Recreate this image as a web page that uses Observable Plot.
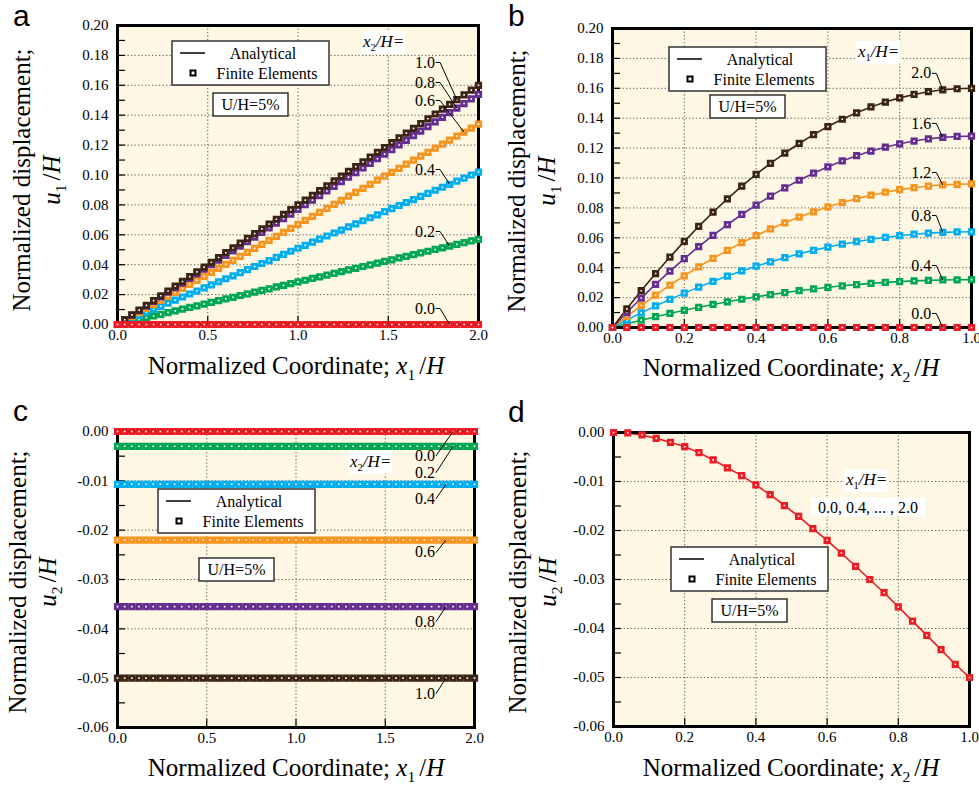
<!DOCTYPE html>
<html><head><meta charset="utf-8">
<script src="https://cdn.jsdelivr.net/npm/d3@7"></script>
<script src="https://cdn.jsdelivr.net/npm/@observablehq/plot@0.6"></script>
<style>
body{margin:0;background:#fff;}
#wrap{position:relative;width:979px;height:786px;overflow:hidden;background:#fff;}
#wrap svg{position:absolute;left:0;top:0;overflow:visible;font-family:"Liberation Serif","Times New Roman",serif !important;}
#wrap svg text, #wrap svg g{font-family:"Liberation Serif","Times New Roman",serif !important;}
#wrap svg text.letter{font-family:"Liberation Sans",Arial,sans-serif !important;}
</style></head><body><div id="wrap"></div>
<script>
// ---------------- DATA ----------------
const x1H = [0,0.04,0.08,0.12,0.16,0.2,0.24,0.28,0.32,0.36,0.4,0.44,0.48,0.52,0.56,0.6,0.64,0.68,0.72,0.76,0.8,0.84,0.88,0.92,0.96,1,1.04,1.08,1.12,1.16,1.2,1.24,1.28,1.32,1.36,1.4,1.44,1.48,1.52,1.56,1.6,1.64,1.68,1.72,1.76,1.8,1.84,1.88,1.92,1.96,2];
const x2H = [0,0.04,0.08,0.12,0.16,0.2,0.24,0.28,0.32,0.36,0.4,0.44,0.48,0.52,0.56,0.6,0.64,0.68,0.72,0.76,0.8,0.84,0.88,0.92,0.96,1];

// Panel a: u1/H vs x1/H, one series per x2/H
const a_keys = ["0.2","0.4","0.6","0.8","1.0","0.0"];
const a_u1_x2_00 = [0,0,0,0,0,0,0,0,0,0,0,0,0,0,0,0,0,0,0,0,0,0,0,0,0,0,0,0,0,0,0,0,0,0,0,0,0,0,0,0,0,0,0,0,0,0,0,0,0,0,0];
const a_u1_x2_02 = [0,.0011,.0023,.0034,.0046,.0057,.0068,.008,.0091,.0103,.0114,.0125,.0137,.0148,.016,.0171,.0182,.0194,.0205,.0217,.0228,.0239,.0251,.0262,.0274,.0285,.0296,.0308,.0319,.0331,.0342,.0353,.0365,.0376,.0388,.0399,.041,.0422,.0433,.0445,.0456,.0467,.0479,.049,.0502,.0513,.0524,.0536,.0547,.0559,.057];
const a_u1_x2_04 = [0,.002,.0041,.0061,.0082,.0102,.0122,.0143,.0163,.0184,.0204,.0224,.0245,.0265,.0286,.0306,.0326,.0347,.0367,.0388,.0408,.0428,.0449,.0469,.049,.051,.053,.0551,.0571,.0592,.0612,.0632,.0653,.0673,.0694,.0714,.0734,.0755,.0775,.0796,.0816,.0836,.0857,.0877,.0898,.0918,.0938,.0959,.0979,.1,.102];
const a_u1_x2_06 = [0,.0027,.0054,.008,.0107,.0134,.0161,.0188,.0214,.0241,.0268,.0295,.0322,.0348,.0375,.0402,.0429,.0456,.0482,.0509,.0536,.0563,.059,.0616,.0643,.067,.0697,.0724,.075,.0777,.0804,.0831,.0858,.0884,.0911,.0938,.0965,.0992,.1018,.1045,.1072,.1099,.1126,.1152,.1179,.1206,.1233,.126,.1286,.1313,.134];
const a_u1_x2_08 = [0,.0031,.0062,.0092,.0123,.0154,.0185,.0216,.0246,.0277,.0308,.0339,.037,.04,.0431,.0462,.0493,.0524,.0554,.0585,.0616,.0647,.0678,.0708,.0739,.077,.0801,.0832,.0862,.0893,.0924,.0955,.0986,.1016,.1047,.1078,.1109,.114,.117,.1201,.1232,.1263,.1294,.1324,.1355,.1386,.1417,.1448,.1478,.1509,.154];
const a_u1_x2_10 = [0,.0032,.0064,.0096,.0128,.016,.0192,.0224,.0256,.0288,.032,.0352,.0384,.0416,.0448,.048,.0512,.0544,.0576,.0608,.064,.0672,.0704,.0736,.0768,.08,.0832,.0864,.0896,.0928,.096,.0992,.1024,.1056,.1088,.112,.1152,.1184,.1216,.1248,.128,.1312,.1344,.1376,.1408,.144,.1472,.1504,.1536,.1568,.16];

// Panel b: u1/H vs x2/H, one series per x1/H
const b_keys = ["0.4","0.8","1.2","1.6","2.0","0.0"];
const b_u1_x1_00 = [0,0,0,0,0,0,0,0,0,0,0,0,0,0,0,0,0,0,0,0,0,0,0,0,0,0];
const b_u1_x1_04 = [0,.0025,.0049,.0072,.0094,.0115,.0135,.0154,.0172,.0189,.0205,.022,.0233,.0246,.0258,.0269,.0279,.0287,.0295,.0302,.0307,.0312,.0315,.0318,.0319,.032];
const b_u1_x1_08 = [0,.005,.0098,.0144,.0188,.023,.027,.0308,.0344,.0378,.041,.0439,.0467,.0493,.0516,.0538,.0557,.0574,.059,.0603,.0614,.0624,.0631,.0636,.0639,.064];
const b_u1_x1_12 = [0,.0075,.0147,.0217,.0283,.0346,.0406,.0462,.0516,.0567,.0614,.0659,.07,.0739,.0774,.0806,.0836,.0862,.0885,.0905,.0922,.0935,.0946,.0954,.0958,.096];
const b_u1_x1_16 = [0,.01,.0197,.0289,.0377,.0461,.0541,.0616,.0688,.0756,.0819,.0879,.0934,.0985,.1032,.1075,.1114,.1149,.118,.1206,.1229,.1247,.1262,.1272,.1278,.128];
const b_u1_x1_20 = [0,.0125,.0246,.0361,.0471,.0576,.0676,.0771,.086,.0945,.1024,.1098,.1167,.1231,.129,.1344,.1393,.1436,.1475,.1508,.1536,.1559,.1577,.159,.1597,.16];

// Panel c: u2/H vs x1/H (constant along x1), one level per x2/H
const c_keys = ["0.2","0.4","0.6","0.8","1.0","0.0"];
const c_u2_levels = [-0.003,-0.0107,-0.022,-0.0355,-0.05,0];

// Panel d: u2/H vs x2/H (same for all x1/H)
const d_u2 = [0,-0.0001,-0.0005,-0.0012,-0.002,-0.0029,-0.0041,-0.0056,-0.0072,-0.0088,-0.0107,-0.0127,-0.0149,-0.0171,-0.0196,-0.022,-0.0246,-0.0273,-0.03,-0.0327,-0.0356,-0.0385,-0.0414,-0.0443,-0.0473,-0.05];

// Ticks
const u1Ticks = [0,0.02,0.04,0.06,0.08,0.1,0.12,0.14,0.16,0.18,0.2];
const u1Minor = [0,0.01,0.02,0.03,0.04,0.05,0.06,0.07,0.08,0.09,0.1,0.11,0.12,0.13,0.14,0.15,0.16,0.17,0.18,0.19,0.2];
const u2Ticks = [0,-0.01,-0.02,-0.03,-0.04,-0.05,-0.06];
const u2Minor = [0,-0.005,-0.01,-0.015,-0.02,-0.025,-0.03,-0.035,-0.04,-0.045,-0.05,-0.055,-0.06];
const x1Ticks = [0,0.5,1,1.5,2];
const x2Ticks = [0,0.2,0.4,0.6,0.8,1];

// Curve labels (label value, label y position, index of the point the leader points to)
const a_labelKeys = ["1.0","0.8","0.6","0.4","0.2","0.0"];
const a_labelY = [0.1753,0.1619,0.1498,0.1037,0.0622,0.0107];
const a_labelIdx = [47,47,48,46,46,46];
const b_labelKeys = ["2.0","1.6","1.2","0.8","0.4","0.0"];
const b_labelY = [0.170,0.1365,0.1037,0.0749,0.0415,0.0094];
const b_labelIdx = [23,23,23,23,23,23];
const c_labelKeys = ["0.0","0.2","0.4","0.6","0.8","1.0"];
const c_labelY = [-0.0049,-0.0083,-0.0136,-0.0245,-0.0385,-0.0531];
const c_labelIdx = [47,47,46,46,46,46];

// ---------------- STYLE ----------------
const W = 979, H = 786;
const SERIF = '"Liberation Serif","Times New Roman",serif';
const SANS = '"Liberation Sans",Arial,sans-serif';
const BG = "#fdf7e3";
const RED="#ed1c24", GREEN="#00a651", BLUE="#00aeef", ORANGE="#f7941d", PURPLE="#662d91", BROWN="#3c2415";
const colA = {"0.0":RED,"0.2":GREEN,"0.4":BLUE,"0.6":ORANGE,"0.8":PURPLE,"1.0":BROWN};
const colB = {"0.0":RED,"0.4":GREEN,"0.8":BLUE,"1.2":ORANGE,"1.6":PURPLE,"2.0":BROWN};

const wrap = document.getElementById("wrap");

function panel(cfg){
  const rows = [];
  cfg.series.forEach(s => s.ys.forEach((y,i) => rows.push({x: s.xs[i], y, k: s.key})));
  const keys = cfg.series.map(s => s.key);
  const byKey = Object.fromEntries(cfg.series.map(s => [s.key, s]));
  const labels = (cfg.labelKeys||[]).map((k,i) => ({k, x: cfg.labelX, y: cfg.labelY[i]}));
  const leaders = [];
  (cfg.labelKeys||[]).forEach((k,i) => {
    const s = byKey[k], j = cfg.labelIdx[i];
    leaders.push({k, x: cfg.labelX, y: cfg.labelY[i]});
    if (cfg.stub) leaders.push({k, x: cfg.labelX + cfg.stub, y: cfg.labelY[i]});
    leaders.push({k, x: s.xs[j], y: s.ys[j]});
  });
  const f = cfg.frame;
  const grid = {stroke:"#555", strokeOpacity:0.95, strokeDasharray:"1.3,2.2", strokeWidth:1};
  const svg = Plot.plot({
    width: W, height: H,
    marginLeft: f[0], marginRight: W - f[1], marginTop: f[2], marginBottom: H - f[3],
    style: {background:"none", fontSize:"15px", color:"black", overflow:"visible"},
    x: {domain: cfg.xDomain, axis: null},
    y: {domain: cfg.yDomain, axis: null},
    color: {domain: keys, range: cfg.series.map(s => s.color)},
    marks: [
      Plot.frame({fill: BG, stroke: "none"}),
      Plot.gridX(cfg.xTicks, grid),
      Plot.gridY(cfg.yTicks, grid),
      Plot.axisY(cfg.yMinor, {anchor:"left", tickSize:8, dx:8, tickFormat:() => "", label:null, strokeWidth:1.2}),
      Plot.axisX(cfg.xTicks, {anchor:"bottom", tickSize:8, dy:-8, tickFormat:() => "", label:null, strokeWidth:1.2}),
      Plot.axisY(cfg.yTicks, {anchor:"left", tickSize:0, tickPadding:9, tickFormat: d => d.toFixed(2), label:null, fontSize:15}),
      Plot.axisX(cfg.xTicks, {anchor:"bottom", tickSize:0, tickPadding:5, tickFormat: d => d.toFixed(1), label:null, fontSize:15}),
      Plot.line(rows, {x:"x", y:"y", z:"k", stroke:"k", strokeWidth:1.6}),
      Plot.frame({stroke:"black", strokeWidth:3}),
      Plot.dot(rows, {x:"x", y:"y", stroke:"k", symbol:"square", r:2.5, strokeWidth:2.8, fill:"#fffdf6"}),
      Plot.line(leaders, {x:"x", y:"y", z:"k", stroke:"black", strokeWidth:1}),
      Plot.text(labels, {x:"x", y:"y", text:"k", textAnchor:"end", dx:-1, fontSize:16, fill:"black", ariaLabel:"series-labels"})
    ]
  });
  wrap.appendChild(svg);
  const g = svg.querySelector('g[aria-label="series-labels"]');
  if (g) g.querySelectorAll("text").forEach(t => {
    const b = t.getBBox();
    const r = document.createElementNS("http://www.w3.org/2000/svg","rect");
    r.setAttribute("x", b.x - 1); r.setAttribute("y", b.y + 1);
    r.setAttribute("width", b.width + 2); r.setAttribute("height", b.height - 2);
    r.setAttribute("fill","white");
    if (t.getAttribute("transform")) r.setAttribute("transform", t.getAttribute("transform"));
    g.insertBefore(r, t);
  });
  return svg;
}

panel({
  frame:[117,478,25,324], xDomain:[0,2], yDomain:[0,0.2],
  xTicks:x1Ticks, yTicks:u1Ticks, yMinor:u1Minor,
  series:[
    {key:"0.2", xs:x1H, ys:a_u1_x2_02, color:colA["0.2"]},
    {key:"0.4", xs:x1H, ys:a_u1_x2_04, color:colA["0.4"]},
    {key:"0.6", xs:x1H, ys:a_u1_x2_06, color:colA["0.6"]},
    {key:"0.8", xs:x1H, ys:a_u1_x2_08, color:colA["0.8"]},
    {key:"1.0", xs:x1H, ys:a_u1_x2_10, color:colA["1.0"]},
    {key:"0.0", xs:x1H, ys:a_u1_x2_00, color:colA["0.0"]}
  ],
  labelKeys:a_labelKeys, labelY:a_labelY, labelIdx:a_labelIdx, labelX:1.765, stub:0.022
});

panel({
  frame:[612,971,28,327], xDomain:[0,1], yDomain:[0,0.2],
  xTicks:x2Ticks, yTicks:u1Ticks, yMinor:u1Minor,
  series:[
    {key:"0.4", xs:x2H, ys:b_u1_x1_04, color:colB["0.4"]},
    {key:"0.8", xs:x2H, ys:b_u1_x1_08, color:colB["0.8"]},
    {key:"1.2", xs:x2H, ys:b_u1_x1_12, color:colB["1.2"]},
    {key:"1.6", xs:x2H, ys:b_u1_x1_16, color:colB["1.6"]},
    {key:"2.0", xs:x2H, ys:b_u1_x1_20, color:colB["2.0"]},
    {key:"0.0", xs:x2H, ys:b_u1_x1_00, color:colB["0.0"]}
  ],
  labelKeys:b_labelKeys, labelY:b_labelY, labelIdx:b_labelIdx, labelX:0.891, stub:0.011
});

panel({
  frame:[117,474,431,727], xDomain:[0,2], yDomain:[-0.06,0],
  xTicks:x1Ticks, yTicks:u2Ticks, yMinor:u2Minor,
  series: c_keys.map((k,i) => ({key:k, xs:x1H, ys:x1H.map(() => c_u2_levels[i]), color:colA[k]})),
  labelKeys:c_labelKeys, labelY:c_labelY, labelIdx:c_labelIdx, labelX:1.785, stub:0
});

panel({
  frame:[613,969,432,726], xDomain:[0,1], yDomain:[-0.06,0],
  xTicks:x2Ticks, yTicks:u2Ticks, yMinor:u2Minor,
  series:[{key:"all", xs:x2H, ys:d_u2, color:RED}]
});

// ---------------- ANNOTATIONS ----------------
const ov = d3.select(wrap).append("svg").attr("width",W).attr("height",H)
  .attr("font-family",SERIF).style("white-space","pre");

function rich(sel, parts, size){
  const t = sel.append("text").attr("font-size", size);
  parts.forEach(p => {
    const ts = t.append("tspan").text(p.t);
    if (p.i) ts.attr("font-style","italic");
    if (p.sub){ ts.attr("font-size", size*0.62).attr("dy", size*0.22); }
    if (p.up){ ts.attr("dy", -size*0.22); }
    if (p.dx){ ts.attr("dx", p.dx); }
  });
  return t;
}
const xTitle = s => [{t:"Normalized Coordinate;  "},{t:"x",i:1},{t:s,sub:1},{t:"/",up:1,dx:4},{t:"H",i:1}];
const uTitle = s => [{t:"u",i:1},{t:s,sub:1},{t:"/",up:1,dx:4},{t:"H",i:1}];

function axisTitles(cxX, baseX, yl1, yl2, cy, sx, su){
  rich(ov, xTitle(sx), 25).attr("x",cxX).attr("y",baseX).attr("text-anchor","middle");
  const g1 = ov.append("g").attr("transform",`translate(${yl1},${cy}) rotate(-90)`);
  rich(g1, [{t:"Normalized displacement;"}], 25).attr("text-anchor","middle").attr("dy","0.32em");
  const g2 = ov.append("g").attr("transform",`translate(${yl2},${cy}) rotate(-90)`);
  rich(g2, uTitle(su), 25).attr("text-anchor","middle").attr("dy","0.32em");
}
axisTitles(296, 374, 22, 52, 180, "1", "1");
axisTitles(791, 376, 517, 547, 181, "2", "1");
axisTitles(296, 776, 18, 48, 582, "1", "2");
axisTitles(791, 776, 518, 548, 582, "2", "2");

[["a",13,26],["b",508,26],["c",13,421],["d",508,422]].forEach(([s,x,y]) =>
  ov.append("text").attr("class","letter").attr("x",x).attr("y",y).attr("font-family",SANS).attr("font-size",30).text(s));

function legend(bx, by){
  const g = ov.append("g");
  g.append("rect").attr("x",bx).attr("y",by).attr("width",157).attr("height",44)
    .attr("fill","white").attr("stroke","#333").attr("stroke-width",1.5);
  g.append("line").attr("x1",bx+8).attr("x2",bx+33).attr("y1",by+12).attr("y2",by+12)
    .attr("stroke","black").attr("stroke-width",1.5);
  g.append("text").attr("x",bx+91).attr("y",by+12).attr("dy","0.35em").attr("text-anchor","middle")
    .attr("font-size",16).text("Analytical");
  g.append("rect").attr("x",bx+18.5).attr("y",by+29.5).attr("width",5).attr("height",5)
    .attr("fill","white").attr("stroke","black").attr("stroke-width",2);
  g.append("text").attr("x",bx+95).attr("y",by+32).attr("dy","0.35em").attr("text-anchor","middle")
    .attr("font-size",16).text("Finite Elements");
}
legend(172,41); legend(669,47); legend(158,489); legend(671,547);

function uhBox(bx, by){
  ov.append("rect").attr("x",bx).attr("y",by).attr("width",75).attr("height",23)
    .attr("fill","white").attr("stroke","#333").attr("stroke-width",1.5);
  ov.append("text").attr("x",bx+37.5).attr("y",by+11.5).attr("dy","0.35em").attr("text-anchor","middle")
    .attr("font-size",16).text("U/H=5%");
}
uhBox(213,93); uhBox(710,95); uhBox(199,558); uhBox(712,599);

function bgText(t, pad){
  const b = t.node().getBBox();
  ov.insert("rect", () => t.node()).attr("x",b.x-pad).attr("y",b.y-1).attr("width",b.width+2*pad)
    .attr("height",b.height+2).attr("fill","white");
}
function header(x, y, s){
  const t = rich(ov, [{t:"x",i:1},{t:s,sub:1},{t:"/H=",i:1,up:1}], 17).attr("x",x).attr("y",y).attr("dy","0.3em");
  bgText(t, 1);
}
header(363, 42, "2"); header(858, 52, "1"); header(350, 462, "2"); header(846, 480, "1");
const dl = ov.append("text").attr("x",868).attr("y",507).attr("dy","0.35em").attr("text-anchor","middle")
  .attr("font-size",16).text("0.0, 0.4, ... , 2.0");
bgText(dl, 7);
</script>
</body></html>
